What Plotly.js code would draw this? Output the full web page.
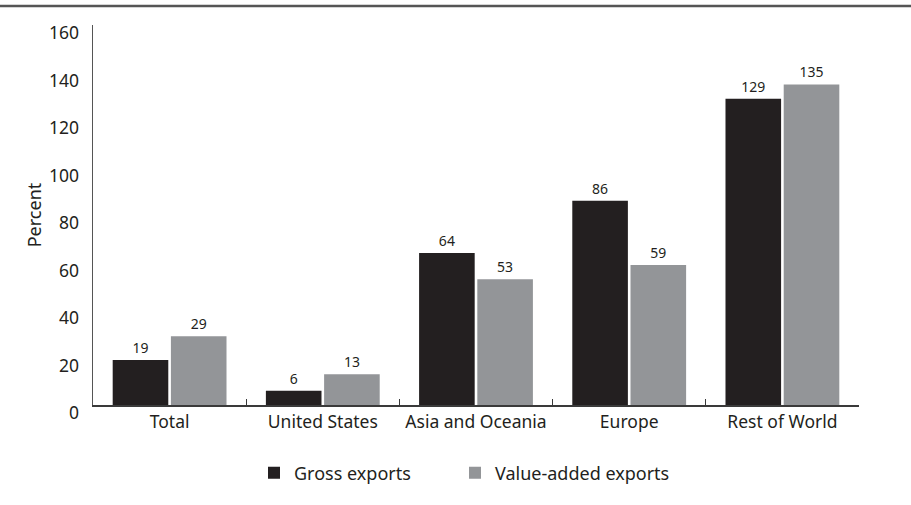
<!DOCTYPE html>
<html>
<head>
<meta charset="utf-8">
<script src="https://cdn.plot.ly/plotly-3.0.1.min.js"></script>
<style>html,body{margin:0;padding:0;background:#fff;}#chart{width:911px;height:505px;}</style>
</head>
<body>
<div id="chart"></div>
<script>
const categories = ["Total", "United States", "Asia and Oceania", "Europe", "Rest of World"];
const grossExports = [19, 6, 64, 86, 129];
const valueAddedExports = [29, 13, 53, 59, 135];
const yTickValues = [0, 20, 40, 60, 80, 100, 120, 140, 160];

const FONT = "Noto Sans, Open Sans, sans-serif";
const TXT = "#231f20";

const traces = [
  {
    type: "bar", name: "Gross exports", x: categories, y: grossExports,
    marker: {color: "#231f20"}, legend: "legend",
    text: grossExports.map(String), textposition: "outside", cliponaxis: false,
    textfont: {family: FONT, size: 14, color: TXT}
  },
  {
    type: "bar", name: "Value-added exports", x: categories, y: valueAddedExports,
    marker: {color: "#939598"}, legend: "legend2",
    text: valueAddedExports.map(String), textposition: "outside", cliponaxis: false,
    textfont: {family: FONT, size: 14, color: TXT}
  }
];

const plotW = 766, plotH = 380;
const legendBase = {
  orientation: "h", xanchor: "left", y: (405 - 473) / plotH, yanchor: "middle",
  font: {family: FONT, size: 18, color: TXT}, itemwidth: 30, bgcolor: "rgba(0,0,0,0)"
};
const layout = {
  width: 911, height: 505,
  margin: {l: 93, r: 911 - 93 - plotW, t: 25, b: 100, pad: 0},
  paper_bgcolor: "#fff", plot_bgcolor: "#fff",
  font: {family: FONT, color: TXT, size: 17},
  barmode: "group", bargap: 0.24, bargroupgap: 0.045,
  showlegend: true,
  legend: Object.assign({}, legendBase, {x: (254 - 93) / plotW}),
  legend2: Object.assign({}, legendBase, {x: (455 - 93) / plotW}),
  xaxis: {
    type: "category", showline: true, linecolor: "#3a3a3a", linewidth: 1.5,
    ticks: "inside", tickson: "boundaries", ticklen: 6, tickcolor: "#3a3a3a", tickwidth: 1,
    showgrid: false, zeroline: false, fixedrange: true,
    tickfont: {family: FONT, size: 17.5, color: TXT}
  },
  yaxis: {
    range: [0, 160], tickvals: yTickValues, ticktext: yTickValues.map(String),
    showline: true, linecolor: "#555", linewidth: 1.5, ticks: "", showgrid: false, zeroline: false,
    ticklabelshift: 8, ticklabelstandoff: 9,
    tickfont: {family: FONT, size: 17.5, color: TXT},
    title: {text: "Percent", font: {family: FONT, size: 18, color: TXT}, standoff: 2}
  },
  shapes: [{
    type: "line", xref: "paper", yref: "paper",
    x0: -93 / plotW, x1: (911 - 93) / plotW, y0: (405 - 6) / plotH, y1: (405 - 6) / plotH,
    line: {color: "#555", width: 2.5}
  }]
};

Plotly.newPlot("chart", traces, layout, {displayModeBar: false, staticPlot: true});
</script>
</body>
</html>
